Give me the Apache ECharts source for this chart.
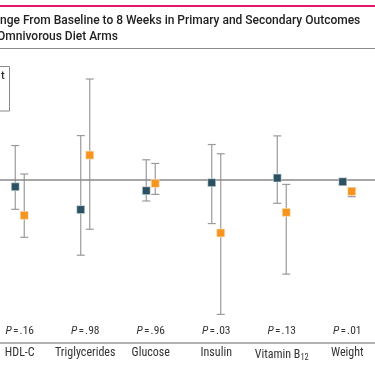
<!DOCTYPE html>
<html>
<head>
<meta charset="utf-8">
<script src="https://cdn.jsdelivr.net/npm/echarts@6/dist/echarts.min.js"></script>
<style>
html,body{margin:0;padding:0;background:#fff;overflow:hidden;width:375px;height:366px;}
#chart{width:393px;height:366px;margin-left:-13px;}
</style>
</head>
<body>
<div id="chart"></div>
<script>
// Data (arbitrary common scale, 0 = no change)
const categories = ['HDL-C', 'Triglycerides', 'Glucose', 'Insulin', 'Vitamin B12', 'Weight'];
const pValues = ['.16', '.98', '.96', '.03', '.13', '.01'];

const darkMean = [-0.69, -2.94, -1.08, -0.29, 0.17, -0.20];
const darkLow  = [-2.91, -7.42, -2.09, -4.31, -2.32, -0.49];
const darkHigh = [3.36, 4.34, 1.96, 3.46, 4.31, 0.10];

const orangeMean = [-3.50, 2.42, -0.36, -5.23, -3.21, -1.15];
const orangeLow  = [-5.66, -4.87, -1.44, -13.24, -9.28, -1.67];
const orangeHigh = [0.56, 9.90, 1.60, 2.55, -0.46, -0.78];

const titleLine1 = 'nge From Baseline to 8 Weeks in Primary and Secondary Outcomes';
const titleLine2 = 'Omnivorous Diet Arms';

const FONT = 'Roboto, "Liberation Sans", sans-serif';
const NARROW = '"Liberation Sans Narrow", "Roboto Condensed", "Arial Narrow", Roboto, sans-serif';
const DARK = '#2b5162';
const ORANGE = '#f7941d';
const WHISKER = '#9a9a9a';
const OFFSET = 4.5;
const SHIFT = 13; // container is shifted left by this many pixels

function whisker(offset) {
  return function (params, api) {
    const x = api.value(0);
    const pLo = api.coord([x, api.value(1)]);
    const pHi = api.coord([x, api.value(2)]);
    const cx = pLo[0] + offset;
    const st = { stroke: WHISKER, lineWidth: 1.2 };
    return {
      type: 'group',
      children: [
        { type: 'line', shape: { x1: cx, y1: pLo[1], x2: cx, y2: pHi[1] }, style: st },
        { type: 'line', shape: { x1: cx - 4, y1: pLo[1], x2: cx + 4, y2: pLo[1] }, style: st },
        { type: 'line', shape: { x1: cx - 4, y1: pHi[1], x2: cx + 4, y2: pHi[1] }, style: st }
      ]
    };
  };
}

const chart = echarts.init(document.getElementById('chart'), null, { renderer: 'canvas' });
chart.setOption({
  animation: false,
  textStyle: { fontFamily: FONT },
  grid: { left: 0, right: 0, top: 78, height: 264.5, containLabel: false },
  xAxis: [
    {
      type: 'category',
      data: categories,
      position: 'bottom',
      axisLine: { onZero: false, lineStyle: { color: '#9a9a9a', width: 1.5 } },
      axisTick: { alignWithLabel: true, length: 3, lineStyle: { color: '#9a9a9a' } },
      axisLabel: {
        interval: 0, color: '#333', fontSize: 12, margin: 4.5, fontFamily: NARROW,
        formatter: v => v === 'Vitamin B12' ? 'Vitamin B{sub|12}' : v,
        rich: { sub: { fontSize: 8.5, color: '#333', fontFamily: NARROW, padding: [6, 0, 0, 0] } }
      }
    },
    {
      type: 'category',
      data: pValues,
      position: 'bottom',
      offset: -19,
      axisLine: { show: false, onZero: false },
      axisTick: { show: false },
      axisLabel: {
        interval: 0, color: '#333', fontSize: 11.5, margin: 2, fontFamily: NARROW,
        formatter: v => '{i|P}\u200a=\u200a' + v,
        rich: { i: { fontStyle: 'italic', fontSize: 11.5, color: '#333', fontFamily: NARROW } }
      }
    }
  ],
  yAxis: {
    type: 'value', min: -16, max: 10,
    show: false
  },
  series: [
    {
      type: 'custom', xAxisIndex: 0, z: 2,
      renderItem: whisker(-OFFSET),
      data: categories.map((c, i) => [i, darkLow[i], darkHigh[i]]),
      markLine: {
        silent: true, symbol: 'none', label: { show: false },
        lineStyle: { color: '#888', width: 1.5, type: 'solid' },
        data: [{ yAxis: 0 }]
      }
    },
    {
      type: 'custom', xAxisIndex: 0, z: 2,
      renderItem: whisker(OFFSET),
      data: categories.map((c, i) => [i, orangeLow[i], orangeHigh[i]])
    },
    {
      type: 'scatter', xAxisIndex: 0, z: 5,
      symbol: 'rect', symbolSize: 8, symbolOffset: [-OFFSET, 0],
      itemStyle: { color: DARK, borderColor: '#e8eef0', borderWidth: 0.6, opacity: 1 },
      data: categories.map((c, i) => [i, darkMean[i]])
    },
    {
      type: 'scatter', xAxisIndex: 0, z: 5,
      symbol: 'rect', symbolSize: 8, symbolOffset: [OFFSET, 0],
      itemStyle: { color: ORANGE, borderColor: '#fde9cf', borderWidth: 0.6, opacity: 1 },
      data: categories.map((c, i) => [i, orangeMean[i]])
    }
  ],
  graphic: [
    { type: 'rect', shape: { x: SHIFT, y: 5, width: 375, height: 2 }, style: { fill: '#e5176d' } },
    { type: 'text', x: SHIFT, y: 15, style: { text: titleLine1, font: '500 12px ' + FONT, fill: '#222' } },
    { type: 'text', x: SHIFT - 3, y: 31, style: { text: titleLine2, font: '500 12px ' + FONT, fill: '#222' } },
    { type: 'rect', shape: { x: SHIFT, y: 48, width: 375, height: 1 }, style: { fill: '#8a8a8a' } },
    { type: 'rect', shape: { x: SHIFT - 10, y: 66.5, width: 19.5, height: 44.5 }, style: { fill: 'none', stroke: '#8a8a8a', lineWidth: 1 } },
    { type: 'text', x: SHIFT + 1, y: 71, style: { text: 't', font: '500 11px ' + FONT, fill: '#333' } }
  ]
});
</script>
</body>
</html>
